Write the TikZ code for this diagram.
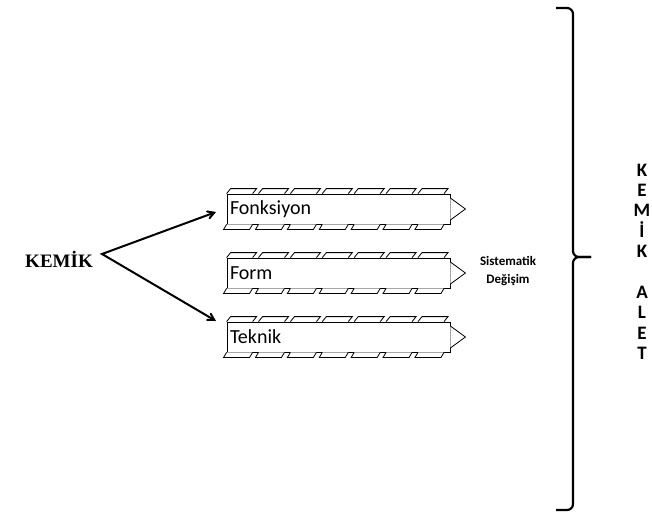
\documentclass[tikz,border=0pt]{standalone}
\usepackage{fontspec}
\setmainfont{Carlito}
\newfontfamily\timesfont{Liberation Serif}
\usetikzlibrary{arrows,calc}
\tikzstyle{block}=[draw,thick,fill=white,minimum height=30pt,inner xsep=3pt,inner ysep=0pt,text width=217pt,align=left,font=\fontsize{20}{20}\selectfont]
\tikzstyle{tooth}=[draw,thick,fill=white]
\tikzstyle{edge}=[draw,line width=2pt,angle 60-angle 60]
\tikzstyle{letter}=[font=\bfseries\fontsize{19}{19}\selectfont,inner sep=0pt]
\tikzstyle{bracket}=[draw,line width=2.2pt,rounded corners=6pt]

\begin{document}
\begin{tikzpicture}[x=1pt,y=-1pt]
    \useasboundingbox (0,0) rectangle (652,517);
    % The word on the left and the fork
    \node[font=\timesfont\bfseries\fontsize{19}{19}\selectfont] (kemik) at (59,259) {KEMİK};
    \coordinate (fork) at (102,254);
    \coordinate (tip1) at (216,212);
    \coordinate (tip2) at (216,321);

    % First we draw the three blocks
    \foreach \pos/ \name/ \text in {{(338.5,209)/fonk/Fonksiyon},{(338.5,273)/form/Form},{(338.5,337)/tekn/Teknik}}
        \node[block] (\name) at \pos {\text};

    % Teeth on top and bottom, then the little triangle
    \foreach \name in {fonk,form,tekn} {
        \foreach \i in {0,...,6} {
            \path[tooth] ($(\name.north west)+(\i*31.9,0)$) -- ++(4,-5) -- ++(26,0) -- ++(-4,5);
            \path[tooth] ($(\name.south west)+(\i*31.9,0)$) -- ++(-3,5) -- ++(26,0) -- ++(3,-5);
        }
        \path[tooth] ($(\name.east)+(0,-11)$) -- ($(\name.east)+(15,0)$) -- ($(\name.east)+(0,11)$);
    }

    % Connect the word with the blocks
    \path[edge] (tip1) -- (fork) -- (tip2);

    \node[font=\bfseries\fontsize{13}{18}\selectfont,align=center] (degisim) at (508,271) {Sistematik\\Değişim};

    % The bracket on the right
    \coordinate (btop) at (556,8);
    \coordinate (bbot) at (556,510);
    \coordinate (bmid) at (591,257);
    \path[bracket] (btop) -| ($(bmid)+(-18,0)$) -- (bmid);
    \path[bracket] (bbot) -| ($(bmid)+(-18,0)$) -- (bmid);

    % Letters down the right side
    \foreach \y/ \ch in {170/K,190/E,210/M,230/İ,251/K,292/A,312/L,333/E,353/T}
        \node[letter] (let\y) at (642,\y) {\ch};
\end{tikzpicture}
\end{document}
